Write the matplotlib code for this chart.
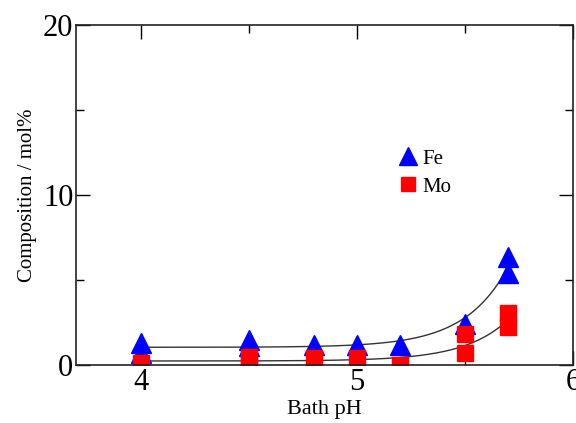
import numpy as np
import matplotlib
matplotlib.use("Agg")
import matplotlib.pyplot as plt
from matplotlib.ticker import MultipleLocator

# 读图得到的数据
fe_ph = [4.0, 4.0, 4.5, 4.5, 4.8, 5.0, 5.2, 5.5, 5.7, 5.7]
fe_val = [1.3, 0.7, 1.5, 1.1, 1.2, 1.2, 1.15, 2.4, 6.35, 5.4]
mo_ph = [4.0, 4.5, 4.5, 4.8, 5.0, 5.2, 5.5, 5.5, 5.7, 5.7]
mo_val = [0.1, 0.5, 0.2, 0.4, 0.4, 0.0, 1.8, 0.7, 3.05, 2.25]

plt.rcParams['font.family'] = ['Liberation Serif', 'DejaVu Serif']


def exp_fit(x, y, kmin=3.0, kmax=5.0):
    # y = a + b*exp(k*x)，对 k 做网格搜索
    x = np.asarray(x)
    y = np.asarray(y)
    best = None
    for k in np.linspace(kmin, kmax, 200):
        A = np.column_stack([np.ones_like(x), np.exp(k * (x - 5.7))])
        coef, res, _, _ = np.linalg.lstsq(A, y, rcond=None)
        err = np.sum((A @ coef - y) ** 2)
        if best is None or err < best[0]:
            best = (err, k, coef)
    _, k, coef = best
    xs = np.linspace(x.min(), x.max(), 200)
    return xs, coef[0] + coef[1] * np.exp(k * (xs - 5.7))


fig, ax = plt.subplots(figsize=(5.76, 4.23), dpi=100)
fig.subplots_adjust(left=0.132, right=0.995, top=0.941, bottom=0.137)

xs, ys = exp_fit(fe_ph, fe_val)
ax.plot(xs, ys, color='#333333', lw=1.0, zorder=1)
xs, ys = exp_fit(mo_ph, mo_val)
ax.plot(xs, ys, color='#333333', lw=1.0, zorder=1)

ax.plot(fe_ph, fe_val, ls='none', marker='^', ms=15, color='blue', label='Fe', zorder=2)
ax.plot(mo_ph, mo_val, ls='none', marker='s', ms=12, color='red', label='Mo', zorder=2)

ax.set_xlim(3.7, 6.0)
ax.set_ylim(0, 20)
ax.xaxis.set_major_locator(MultipleLocator(1))
ax.xaxis.set_minor_locator(MultipleLocator(0.5))
ax.yaxis.set_major_locator(MultipleLocator(10))
ax.yaxis.set_minor_locator(MultipleLocator(5))
ax.tick_params(which='both', direction='in', top=True, right=True, labelsize=22, pad=2)
ax.tick_params(which='major', length=10, width=1)
ax.tick_params(which='minor', length=6, width=1)
for sp in ax.spines.values():
    sp.set_linewidth(1.2)
    sp.set_color('#222222')

ax.set_xlabel('Bath pH', fontsize=16, labelpad=2)
ax.set_ylabel('Composition / mol%', fontsize=15, labelpad=4)

ax.legend(loc='center left', bbox_to_anchor=(0.605, 0.565), frameon=False, fontsize=15,
          handletextpad=0.1, labelspacing=0.4, handlelength=1.2, markerscale=0.85)

plt.savefig('out.png', dpi=100)
